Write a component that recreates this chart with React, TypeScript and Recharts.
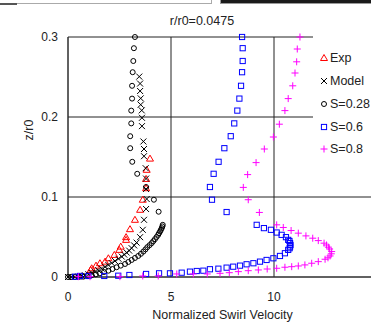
import { ScatterChart, Scatter, XAxis, YAxis, CartesianGrid, Legend } from "recharts";

const xTicks = [0, 5, 10];
const yTicks = [0, 0.1, 0.2, 0.3];

const expVel = [3.98, 3.82, 3.79, 3.79, 3.63, 3.5, 3.25, 3.01, 2.82, 2.82, 2.56, 2.49, 2.25, 1.96, 1.8, 1.55, 1.36, 1.15, 1.1];
const expZ = [0.148, 0.134, 0.1226, 0.111, 0.0966, 0.084, 0.0715, 0.0598, 0.0498, 0.0464, 0.038, 0.0339, 0.0276, 0.0234, 0.0192, 0.0172, 0.0142, 0.0109, 0.0088];

const modelVel = [3.46, 3.5, 3.5, 3.53, 3.53, 3.58, 3.59, 3.59, 3.66, 3.69, 3.69, 3.77, 3.79, 3.79, 3.82, 3.79, 3.69, 3.63, 3.5, 3.33, 3.21, 3.09, 2.97, 2.85, 2.73, 2.61, 2.45, 2.28, 2.12, 1.96, 1.8, 1.64, 1.47, 1.31, 1.15, 0.99, 0.82, 0.66, 0.5, 0.34, 0.17, 0.0];
const modelZ = [0.2505, 0.2418, 0.2325, 0.2233, 0.2154, 0.2083, 0.199, 0.1886, 0.1694, 0.16, 0.151, 0.136, 0.123, 0.11, 0.0975, 0.085, 0.0715, 0.059, 0.0498, 0.043, 0.0395, 0.036, 0.033, 0.0305, 0.028, 0.0255, 0.0228, 0.02, 0.0175, 0.015, 0.0127, 0.0104, 0.0085, 0.0067, 0.005, 0.0034, 0.0022, 0.0013, 0.0006, 0.0002, 0, 0];

const s28Vel = [3.25, 3.2, 3.17, 3.14, 3.11, 3.11, 3.07, 3.07, 3.02, 3.02, 3.12, 3.36, 3.79, 4.17, 4.4, 4.6, 4.58, 4.55, 4.51, 4.47, 4.42, 4.38, 4.3, 4.22, 4.14, 4.06, 3.96, 3.85, 3.76, 3.66, 3.54, 3.41, 3.25, 3.09, 2.93, 2.77, 2.56, 2.36, 2.16, 1.96, 1.75, 1.55, 1.35, 1.15, 0.95, 0.74, 0.54, 0.34, 0.15, 0.0];
const s28Z = [0.3, 0.286, 0.27, 0.256, 0.239, 0.223, 0.208, 0.192, 0.176, 0.161, 0.144, 0.129, 0.1125, 0.0966, 0.0816, 0.0652, 0.0632, 0.0611, 0.059, 0.0569, 0.0548, 0.0527, 0.05, 0.0473, 0.0448, 0.0423, 0.0398, 0.0373, 0.0345, 0.0318, 0.029, 0.0263, 0.0238, 0.0213, 0.0188, 0.0163, 0.0142, 0.0122, 0.01, 0.0079, 0.0062, 0.0046, 0.0033, 0.0021, 0.0012, 0.0004, 0.0002, 0, 0, 0];

const s6Vel = [8.45, 8.48, 8.48, 8.45, 8.4, 8.32, 8.22, 8.07, 7.9, 7.59, 7.31, 7.07, 6.89, 6.99, 7.7, 9.16, 9.51, 9.85, 10.13, 10.37, 10.58, 10.69, 10.75, 10.78, 10.8, 10.78, 10.76, 10.69, 10.53, 10.29, 9.97, 9.64, 9.32, 9.0, 8.67, 8.35, 8.02, 7.7, 7.3, 6.89, 6.57, 6.25, 5.92, 5.52, 4.95, 4.42, 3.79, 2.98, 2.44, 1.76, 0.99, 0.58, 0.34];
const s6Z = [0.3, 0.286, 0.27, 0.256, 0.239, 0.223, 0.208, 0.192, 0.176, 0.161, 0.144, 0.129, 0.1125, 0.0966, 0.0812, 0.0652, 0.0611, 0.059, 0.0556, 0.0527, 0.0498, 0.0464, 0.045, 0.0423, 0.04, 0.038, 0.036, 0.0339, 0.0297, 0.0263, 0.0234, 0.0213, 0.0192, 0.0172, 0.0159, 0.0142, 0.0129, 0.0117, 0.0104, 0.0097, 0.0079, 0.0075, 0.0067, 0.0054, 0.0046, 0.0046, 0.0038, 0.0025, 0.0016, 0.0013, 0.0013, 0.0013, 0.0004];

const s8Vel = [11.26, 11.13, 11.1, 11.02, 10.91, 10.69, 10.53, 10.26, 9.97, 9.53, 9.13, 8.72, 8.51, 8.75, 9.29, 10.13, 10.45, 10.83, 11.18, 11.55, 11.88, 12.15, 12.43, 12.55, 12.64, 12.7, 12.8, 12.78, 12.72, 12.62, 12.48, 12.15, 11.83, 11.5, 11.18, 10.86, 10.53, 10.13, 9.67, 9.24, 8.75, 8.27, 7.83, 7.38, 6.76, 6.08, 5.28, 4.38, 3.63, 2.52, 1.07, 0.5];
const s8Z = [0.3, 0.285, 0.269, 0.255, 0.239, 0.223, 0.208, 0.191, 0.175, 0.16, 0.143, 0.128, 0.112, 0.0966, 0.0807, 0.0652, 0.0619, 0.0581, 0.0548, 0.0514, 0.0485, 0.0455, 0.0423, 0.04, 0.0373, 0.035, 0.0318, 0.029, 0.0263, 0.024, 0.0222, 0.0192, 0.0172, 0.0151, 0.0138, 0.0129, 0.0122, 0.0109, 0.01, 0.0088, 0.0079, 0.0067, 0.0054, 0.0046, 0.0038, 0.0038, 0.0038, 0.0013, 0.0013, 0.0004, 0.0004, 0.0004];

const zip = (v: number[], z: number[]) => v.map((x, i) => ({ v: x, z: z[i] }));

const FONT = "'Liberation Sans', Arial, sans-serif";

const Tri = ({ cx, cy, color = "#ff0000" }: any) => (
  <path d={`M${cx},${cy - 3.5}L${cx + 3.5},${cy + 2.5}L${cx - 3.5},${cy + 2.5}Z`} fill="none" stroke={color} strokeWidth={1} />
);
const Cross = ({ cx, cy }: any) => (
  <path d={`M${cx - 3},${cy - 3}L${cx + 3},${cy + 3}M${cx - 3},${cy + 3}L${cx + 3},${cy - 3}`} stroke="#000" strokeWidth={1} />
);
const Ring = ({ cx, cy }: any) => <circle cx={cx} cy={cy} r={2.5} fill="none" stroke="#000" strokeWidth={1} />;
const Box = ({ cx, cy }: any) => <rect x={cx - 2.6} y={cy - 2.6} width={5.2} height={5.2} fill="none" stroke="#0000ff" strokeWidth={1} />;
const Plus = ({ cx, cy }: any) => (
  <path d={`M${cx - 3.5},${cy}L${cx + 3.5},${cy}M${cx},${cy - 3.5}L${cx},${cy + 3.5}`} stroke="#ff00ff" strokeWidth={1} />
);

const legendItems = [
  { name: "Exp", Mark: Tri },
  { name: "Model", Mark: Cross },
  { name: "S=0.28", Mark: Ring },
  { name: "S=0.6", Mark: Box },
  { name: "S=0.8", Mark: Plus },
];

const renderLegend = () => (
  <div style={{ background: "#fff", paddingTop: 17, paddingLeft: 7, height: 130, boxSizing: "border-box" }}>
    {legendItems.map(({ name, Mark }) => (
      <div key={name} style={{ display: "flex", alignItems: "center", height: 22.75, fontSize: 12.5, color: "#222" }}>
        <svg width={8} height={8} style={{ marginRight: 2 }}>
          <Mark cx={4} cy={4} />
        </svg>
        {name}
      </div>
    ))}
  </div>
);

export default function App() {
  return (
    <div style={{ position: "absolute", left: 0, top: 0, width: 371, height: 324, overflow: "hidden", background: "#fff", fontFamily: FONT }}>
      <div style={{ position: "absolute", left: 0, top: 0, width: 211, height: 3, borderBottom: "1px solid #aaa", borderRight: "1px solid #aaa" }} />
      <div style={{ position: "absolute", left: 0, top: 3, width: 17, height: 2, background: "#555" }} />
      <div style={{ position: "absolute", left: 220, top: 0, width: 151, height: 4, background: "#1a1a1a", borderLeft: "1px solid #999", borderBottom: "1px solid #999", boxSizing: "border-box" }} />
      <div style={{ position: "absolute", left: 0, top: 14, width: 404, textAlign: "center", fontSize: 12.5, lineHeight: "14px", color: "#222" }}>
        r/r0=0.0475
      </div>
      <ScatterChart width={400} height={324} margin={{ top: 37, right: 23, bottom: 0, left: 8 }} style={{ fontFamily: FONT }}>
        <CartesianGrid stroke="#222" strokeWidth={1} />
        <XAxis
          type="number"
          dataKey="v"
          domain={[0, 15]}
          ticks={xTicks}
          height={47}
          tickLine={false}
          tickSize={0}
          tickMargin={15}
          stroke="#333"
          tick={{ fill: "#222", fontSize: 12 }}
          label={{ value: "Normalized Swirl Velocity", position: "insideBottom", offset: 5, fill: "#222", fontSize: 12.5 }}
        />
        <YAxis
          type="number"
          dataKey="z"
          domain={[0, 0.3]}
          ticks={yTicks}
          width={60}
          tickLine={false}
          tickSize={0}
          tickMargin={10}
          stroke="#333"
          tick={{ fill: "#222", fontSize: 12 }}
          label={{
            content: () => (
              <text x={33} y={130} transform="rotate(-90,33,130)" textAnchor="middle" fontSize={12.5} fill="#222">
                z/r0
              </text>
            ),
          }}
        />
        <Legend
          layout="vertical"
          align="center"
          verticalAlign="middle"
          content={renderLegend}
          wrapperStyle={{ left: 313, top: 30, width: 70 }}
        />
        <Scatter name="Exp" data={zip(expVel, expZ)} shape={(p: any) => <Tri cx={p.cx} cy={p.cy} />} isAnimationActive={false} />
        <Scatter name="Model" data={zip(modelVel, modelZ)} shape={(p: any) => <Cross cx={p.cx} cy={p.cy} />} isAnimationActive={false} />
        <Scatter name="S=0.28" data={zip(s28Vel, s28Z)} shape={(p: any) => <Ring cx={p.cx} cy={p.cy} />} isAnimationActive={false} />
        <Scatter name="S=0.6" data={zip(s6Vel, s6Z)} shape={(p: any) => <Box cx={p.cx} cy={p.cy} />} isAnimationActive={false} />
        <Scatter name="S=0.8" data={zip(s8Vel, s8Z)} shape={(p: any) => <Plus cx={p.cx} cy={p.cy} />} isAnimationActive={false} />
      </ScatterChart>
    </div>
  );
}
